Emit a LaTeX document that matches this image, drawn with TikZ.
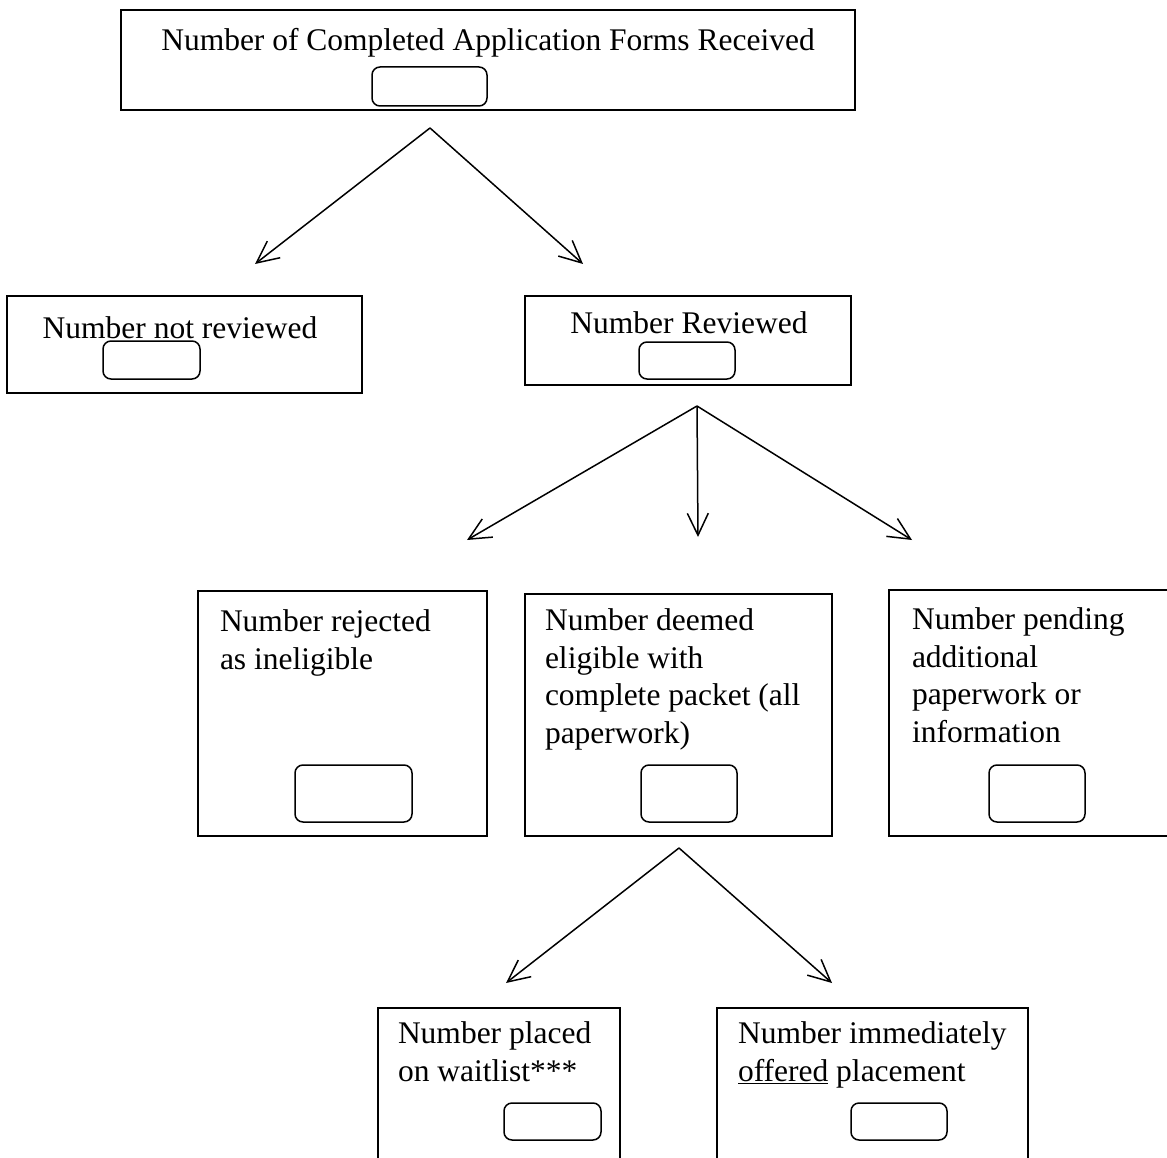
\documentclass[tikz,border=0pt]{standalone}
\usepackage{fontspec}
\setmainfont{Liberation Serif}
\usetikzlibrary{arrows.meta}

\begin{document}
\begin{tikzpicture}[
            x=1pt, y=-1pt,
            line width=1.5pt,
            every node/.style={inner sep=0pt, outer sep=0pt, font=\fontsize{31.5}{37.5}\selectfont},
            box/.style={draw, anchor=north west},
            slot/.style={draw, rounded corners=8pt},
            txt/.style={anchor=north west, align=left, execute at begin node=\strut},
            flow/.style={-{Straight Barb[length=22pt, width=21pt]}}
        ]
        \useasboundingbox (0,0) rectangle (1167,1158);
        % outer boxes
        \node[box, minimum width=734pt, minimum height=100pt] (Forms) at (121,10) {};
        \node[box, minimum width=355pt, minimum height=97pt] (NotRev) at (7,296) {};
        \node[box, minimum width=326pt, minimum height=89pt] (Rev) at (525,296) {};
        \node[box, minimum width=289pt, minimum height=245pt] (Rej) at (198,591) {};
        \node[box, minimum width=307pt, minimum height=242pt] (Elig) at (525,594) {};
        \node[box, minimum width=301pt, minimum height=246pt] (Pend) at (889,590) {};
        \node[box, minimum width=242pt, minimum height=172pt] (Wait) at (378,1008) {};
        \node[box, minimum width=311pt, minimum height=172pt] (Offer) at (717,1008) {};
        % texts
        \node[anchor=base] (FormsT) at (488,51) {Number of Completed Application Forms Received};
        \node[anchor=base] (NotRevT) at (180,338) {Number not reviewed};
        \node[anchor=base] (RevT) at (689,334) {Number Reviewed};
        \node[txt] (RejT) at (220,610) {Number rejected\\as ineligible};
        \node[txt] (EligT) at (545,609) {Number deemed\\eligible with\\complete packet (all\\paperwork)};
        \node[txt] (PendT) at (912,608) {Number pending\\additional\\paperwork or\\information};
        \node[txt] (WaitT) at (398,1022) {Number placed\\on waitlist***};
        \node[txt] (OfferT) at (738,1022) {Number immediately\\\underline{offered} placement};
        % Add the blank count boxes
        \foreach \name/\cx/\cy/\w/\h in {FormsN/429.5/86.5/115/39, NotRevN/151.5/360/97/38,
                RevN/687/360.5/96/37, RejN/353.5/793.5/117/57, EligN/689/793.5/96/57,
                PendN/1037/793.5/96/57, WaitN/552.5/1121.5/97/37, OfferN/899/1121.5/96/37}
            \node[slot, minimum width=\w pt, minimum height=\h pt] (\name) at (\cx,\cy) {};
        % arrows
        \coordinate (splitA) at (430,128);
        \coordinate (splitB) at (697,406);
        \coordinate (splitC) at (679,848);
        \coordinate (toNotRev) at (255,264);
        \coordinate (toRev) at (583,264);
        \coordinate (toRej) at (467,540);
        \coordinate (toElig) at (698,537);
        \coordinate (toPend) at (912,540);
        \coordinate (toWait) at (506,983);
        \coordinate (toOffer) at (832,983);
        \foreach \tip in {toNotRev, toRev}
            \draw[flow] (splitA) -- (\tip);
        \foreach \tip in {toRej, toElig, toPend}
            \draw[flow] (splitB) -- (\tip);
        \foreach \tip in {toWait, toOffer}
            \draw[flow] (splitC) -- (\tip);
\end{tikzpicture}
\end{document}
